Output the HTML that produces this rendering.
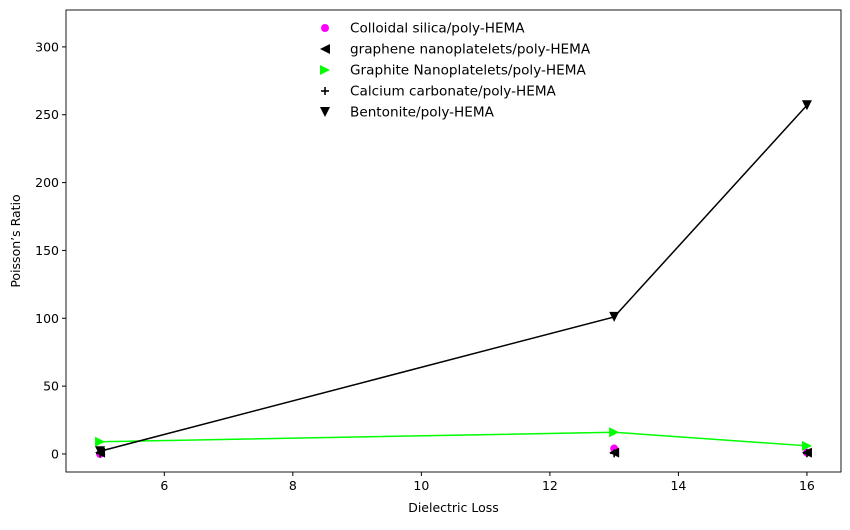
<!DOCTYPE html>
<html><head><meta charset="utf-8"><style>
body{margin:0;background:#fff;}
svg text{font-family:"DejaVu Sans","Liberation Sans",sans-serif;}
</style></head><body>
<svg id="chart" width="850" height="525" xmlns="http://www.w3.org/2000/svg"></svg>
<script>
const xValues=[5,13,16];
const seriesNames=["Colloidal silica/poly-HEMA","graphene nanoplatelets/poly-HEMA","Graphite Nanoplatelets/poly-HEMA","Calcium carbonate/poly-HEMA","Bentonite/poly-HEMA"];
const silica=[0,4,1];
const graphene=[1,1,1];
const graphite=[9,16,6];
const calcium=[0.5,0.5,0.5];
const bentonite=[2,101,257];
const xTicks=[6,8,10,12,14,16];
const yTicks=[0,50,100,150,200,250,300];

const svg=document.getElementById('chart');
const NS='http://www.w3.org/2000/svg';
const L=66,R=841,T=10,B=472;
const xmin=4.47,xmax=16.53,ymin=-13.3,ymax=327.2;
function sx(v){return L+(v-xmin)/(xmax-xmin)*(R-L);}
function sy(v){return B-(v-ymin)/(ymax-ymin)*(B-T);}
function mk(tag,attrs,parent){const e=document.createElementNS(NS,tag);for(const k in attrs)e.setAttribute(k,attrs[k]);(parent||svg).appendChild(e);return e;}

const frame=mk('rect',{x:L,y:T,width:R-L,height:B-T,fill:'none',stroke:'#000','stroke-width':0.9});



xTicks.forEach(t=>{
  const g=mk('g',{});
  
  
  mk('line',{x1:sx(t),x2:sx(t),y1:B,y2:B+4,stroke:'#000'},g);
  const tx=mk('text',{x:sx(t),y:B+18,'text-anchor':'middle','font-size':12.5},g);tx.textContent=t;
});
yTicks.forEach(t=>{
  const g=mk('g',{});
  
  
  mk('line',{x1:L-4,x2:L,y1:sy(t),y2:sy(t),stroke:'#000'},g);
  const tx=mk('text',{x:L-7,y:sy(t)+4.5,'text-anchor':'end','font-size':12.5},g);tx.textContent=t;
});
const xt=mk('text',{x:(L+R)/2,y:512,'text-anchor':'middle','font-size':12.5});xt.textContent='Dielectric Loss';


const yt=mk('text',{x:20,y:(T+B)/2,'text-anchor':'middle','font-size':12.5,transform:`rotate(-90 20 ${(T+B)/2})`});yt.textContent='Poisson’s Ratio';



function marker(type,x,y,color,parent){
  const s=5;
  if(type==='circle') return mk('circle',{cx:x,cy:y,r:4,fill:color},parent);
  if(type==='left') return mk('polygon',{points:`${x-s},${y} ${x+s},${y-s} ${x+s},${y+s}`,fill:color},parent);
  if(type==='right') return mk('polygon',{points:`${x+s},${y} ${x-s},${y-s} ${x-s},${y+s}`,fill:color},parent);
  if(type==='down') return mk('polygon',{points:`${x-s},${y-s} ${x+s},${y-s} ${x},${y+s}`,fill:color},parent);
  if(type==='plus'){const g=mk('g',{},parent);mk('line',{x1:x-4,x2:x+4,y1:y,y2:y,stroke:color,'stroke-width':1.6},g);mk('line',{x1:x,x2:x,y1:y-4,y2:y+4,stroke:color,'stroke-width':1.6},g);return g;}
}
const series=[
 {name:'silica-series',vals:silica,color:'#ff00ff',m:'circle',line:false},
 {name:'graphene-series',vals:graphene,color:'#000',m:'left',line:false},
 {name:'graphite-series',vals:graphite,color:'#00ff00',m:'right',line:true},
 {name:'calcium-series',vals:calcium,color:'#000',m:'plus',line:false},
 {name:'bentonite-series',vals:bentonite,color:'#000',m:'down',line:true}
];
series.forEach(s=>{
  const g=mk('g',{});
  
  
  if(s.line) mk('polyline',{points:xValues.map((x,i)=>sx(x)+','+sy(s.vals[i])).join(' '),fill:'none',stroke:s.color,'stroke-width':1.5},g);
  xValues.forEach((x,i)=>{
    const m=marker(s.m,sx(x),sy(s.vals[i]),s.color,g);
    
    
  });
});
const lg=mk('g',{});


series.forEach((s,i)=>{
  const y=28+i*21;
  const e=mk('g',{},lg);
  
  
  marker(s.m,325,y,s.color,e);
  const t=mk('text',{x:350,y:y+4.5,'font-size':13.6},e);t.textContent=seriesNames[i];
});
</script>
</body></html>
